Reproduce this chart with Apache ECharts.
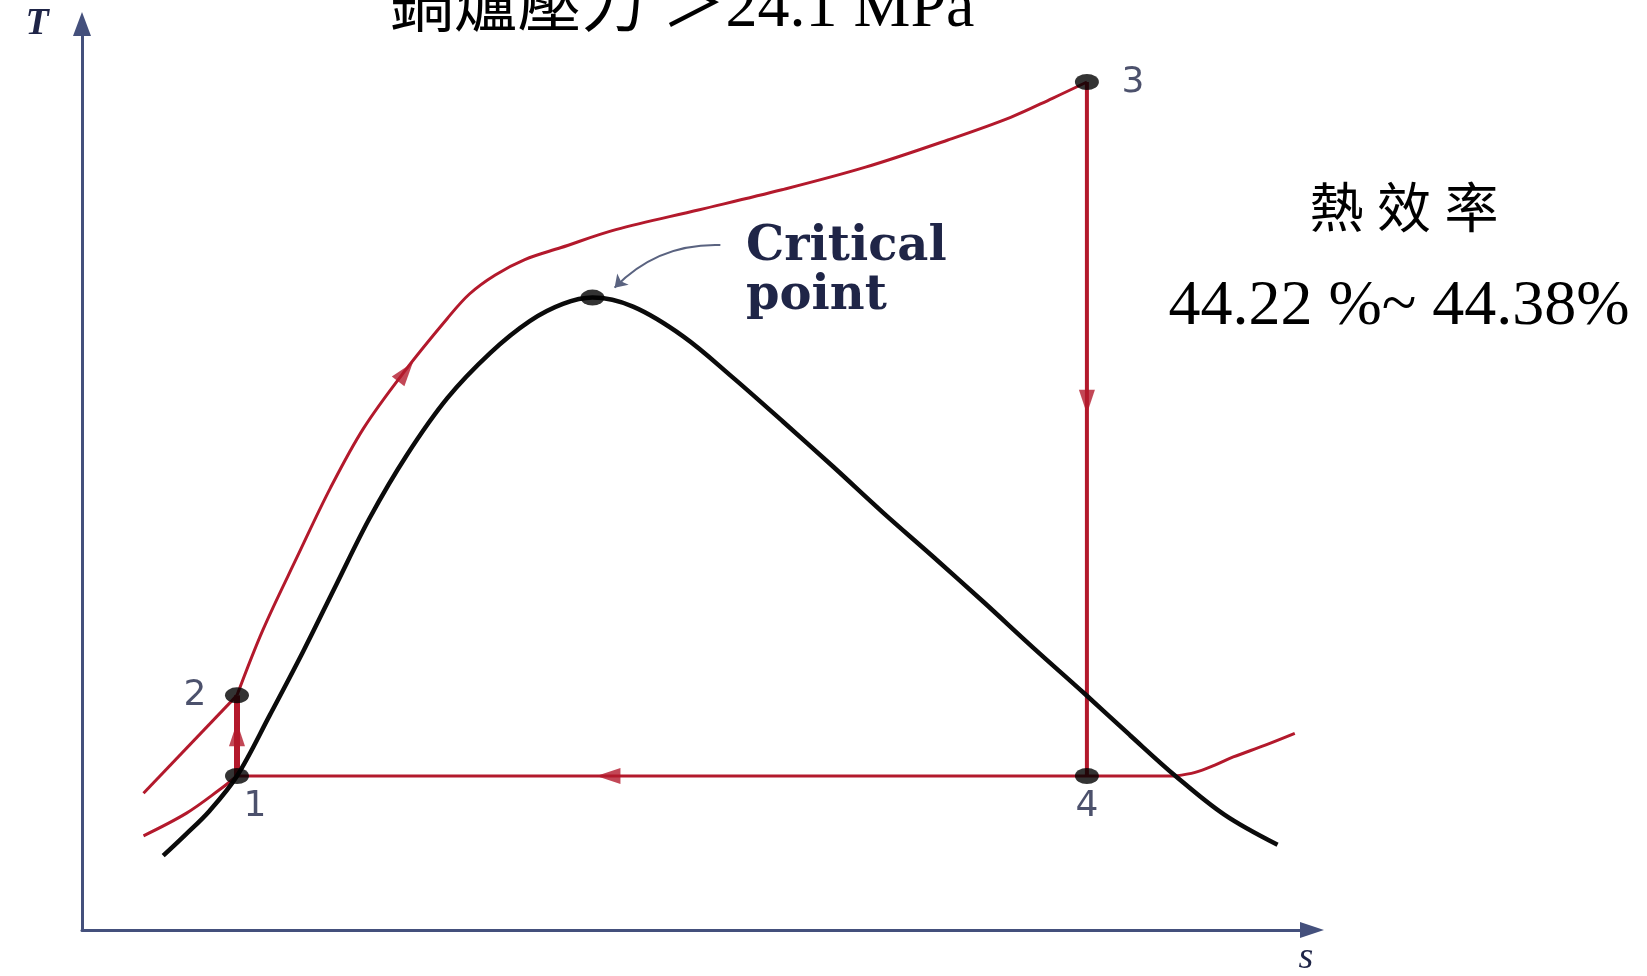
<!DOCTYPE html>
<html>
<head>
<meta charset="utf-8">
<script src="https://cdn.jsdelivr.net/npm/echarts@6/dist/echarts.min.js"></script>
<style>
  html, body { margin: 0; padding: 0; background: #ffffff; }
  #chart { width: 1647px; height: 976px; }
</style>
</head>
<body>
<div id="chart"></div>
<script>
// T–s diagram of a supercritical Rankine cycle (entropy s, temperature T, arbitrary units 0–100)

// Saturation dome, left (liquid) branch through the critical point to the right (vapour) branch
const domeCurve = [
  [6.6, 8.2], [8.4, 10.5], [10.4, 13.2], [12.6, 17.0], [15.3, 23.8], [18.0, 30.8],
  [20.7, 38.2], [23.4, 45.5], [26.4, 52.4], [29.7, 58.7], [33.2, 63.7], [36.4, 67.2],
  [39.1, 69.1], [41.5, 69.8], [44.8, 68.8], [48.9, 65.5], [52.9, 61.0], [57.0, 56.1],
  [61.1, 51.1], [65.1, 46.1], [69.2, 41.2], [73.3, 36.2], [77.3, 31.2], [81.5, 26.1],
  [85.2, 21.5], [88.9, 17.0], [92.9, 12.7], [97.2, 9.4]
];

// Boiler (supercritical) isobar: lower stub up to state 2, then 2 → 3
const boilerStub = [[5.0, 15.1], [12.6, 25.9]];
const boilerIsobar = [
  [12.6, 25.9], [14.7, 33.1], [17.5, 41.2], [20.2, 48.8], [22.9, 55.4], [26.3, 61.8],
  [29.7, 67.5], [31.5, 70.2], [33.6, 72.3], [36.0, 74.0], [38.9, 75.3], [43.4, 77.3],
  [50.2, 79.5], [56.9, 81.7], [63.7, 84.2], [70.4, 87.2], [75.5, 89.7], [78.9, 91.8],
  [81.7, 93.6]
];

// Condenser isobar: compressed-liquid part, 4 → 1 heat rejection, superheated tail
const condenserLeft = [[5.0, 10.4], [8.5, 12.9], [11.2, 15.5], [12.6, 17.0]];
const condenserLine = [[12.6, 17.0], [88.9, 17.0]];
const condenserTail = [[88.9, 17.0], [90.5, 17.4], [92.1, 18.2], [93.6, 19.1], [96.2, 20.4], [98.6, 21.7]];

// Pump 1 → 2 and turbine 3 → 4
const pumpLine = [[12.6, 17.0], [12.6, 25.9]];
const turbineLine = [[81.7, 93.6], [81.7, 17.0]];

// Numbered cycle states
const stateNames = ['1', '2', '3', '4'];
const stateValues = [[12.6, 17.0], [12.6, 25.9], [81.7, 93.6], [81.7, 17.0]];

const criticalPoint = [41.5, 69.8];
const criticalLeader = [[51.9, 75.6], [43.3, 70.9]];

// Flow-direction arrowheads: where each sits and a point further along its path
const arrowAt = [[26.3, 61.6], [12.6, 21.6], [81.7, 58.3], [42.8, 17.0]];
const arrowToward = [[29.7, 67.5], [12.6, 25.9], [81.7, 17.0], [12.6, 17.0]];

const RED = '#b3192c';
const INK = '#1f2547';
const AXIS = '#44507c';
const SERIF_CJK = "'Liberation Serif', 'Noto Sans CJK TC', serif";

const stateLabelOffsets = [[18, 31], [-42, 0], [46, 1], [0, 31]];

const chart = echarts.init(document.getElementById('chart'), null, { renderer: 'canvas' });

function redLine(data, width, smooth) {
  return {
    type: 'line', data: data, smooth: smooth, showSymbol: false, symbol: 'none',
    lineStyle: { color: RED, width: width }, z: 3, silent: true
  };
}

const option = {
  animation: false,
  backgroundColor: '#ffffff',
  grid: { left: 82, right: 335, top: 24, bottom: 46, containLabel: false },
  xAxis: {
    type: 'value', min: 0, max: 100,
    axisLine: { show: true, onZero: false, symbol: ['none', 'triangle'], symbolSize: [16, 24],
      lineStyle: { color: AXIS, width: 3 } },
    axisTick: { show: false }, axisLabel: { show: false }, splitLine: { show: false }
  },
  yAxis: {
    type: 'value', min: 0, max: 100,
    axisLine: { show: true, onZero: false, symbol: ['none', 'triangle'], symbolSize: [18, 24],
      lineStyle: { color: AXIS, width: 3 } },
    axisTick: { show: false }, axisLabel: { show: false }, splitLine: { show: false }
  },
  series: [
    {
      type: 'line', data: domeCurve, smooth: 0.35, showSymbol: false, symbol: 'none',
      lineStyle: { color: '#0b0b0b', width: 4.5 }, z: 4, silent: true
    },
    redLine(boilerStub, 3, false),
    redLine(boilerIsobar, 3, 0.35),
    redLine(condenserLeft, 3, 0.35),
    redLine(condenserLine, 3, false),
    redLine(condenserTail, 3, 0.35),
    redLine(pumpLine, 6, false),
    redLine(turbineLine, 4, false),
    {
      id: 'arrows', type: 'scatter', symbol: 'triangle', symbolSize: [16, 24],
      itemStyle: { color: RED }, z: 6, silent: true,
      data: arrowAt.map(function (p) { return { value: p }; })
    },
    {
      type: 'lines', coordinateSystem: 'cartesian2d', silent: true, z: 5,
      symbol: ['none', 'arrow'], symbolSize: 12,
      lineStyle: { color: '#5a6380', width: 2, curveness: -0.22, opacity: 1 },
      data: [{ coords: criticalLeader }]
    },
    {
      type: 'scatter', symbol: 'circle', symbolSize: [24, 16], z: 7, silent: true,
      itemStyle: { color: '#000000' },
      data: [{ value: criticalPoint }]
    },
    {
      type: 'scatter', symbol: 'circle', symbolSize: [24, 16], z: 7, silent: true,
      itemStyle: { color: '#000000' },
      data: stateValues.map(function (v, i) {
        return {
          value: v, name: stateNames[i],
          label: {
            show: true, position: 'inside', formatter: stateNames[i],
            offset: stateLabelOffsets[i], color: INK,
            fontFamily: "'DejaVu Sans', sans-serif", fontSize: 36, fontWeight: 'normal'
          }
        };
      })
    }
  ],
  graphic: [
    { type: 'text', silent: true, style: { text: '鍋爐壓力 ＞24.1 MPa', x: 682, y: 9,
      align: 'center', verticalAlign: 'middle', fontSize: 64, fontFamily: SERIF_CJK, fill: '#000' } },
    { type: 'text', silent: true, style: { text: '熱 效 率', x: 1404, y: 214,
      align: 'center', verticalAlign: 'middle', fontSize: 54, fontFamily: SERIF_CJK, fill: '#000' } },
    { type: 'text', silent: true, style: { text: '44.22 %~ 44.38%', x: 1399, y: 307,
      align: 'center', verticalAlign: 'middle', fontSize: 64, fontFamily: SERIF_CJK, fill: '#000' } },
    { type: 'text', silent: true, style: { text: 'Critical', x: 746, y: 248,
      align: 'left', verticalAlign: 'middle', fontSize: 48, fontWeight: 'bold',
      fontFamily: "'DejaVu Serif', serif", fill: INK } },
    { type: 'text', silent: true, style: { text: 'point', x: 746, y: 297,
      align: 'left', verticalAlign: 'middle', fontSize: 48, fontWeight: 'bold',
      fontFamily: "'DejaVu Serif', serif", fill: INK } },
    { type: 'text', silent: true, style: { text: 'T', x: 37, y: 24,
      align: 'center', verticalAlign: 'middle', fontSize: 38, fontWeight: 'bold', fontStyle: 'italic',
      fontFamily: "'Liberation Serif', serif", fill: INK } },
    { type: 'text', silent: true, style: { text: 's', x: 1306, y: 958,
      align: 'center', verticalAlign: 'middle', fontSize: 38, fontStyle: 'italic',
      fontFamily: "'Liberation Serif', serif", fill: INK } }
  ]
};

chart.setOption(option);

// Point each arrowhead along its path, using the on-screen direction
const arrowData = arrowAt.map(function (p, i) {
  const a = chart.convertToPixel({ gridIndex: 0 }, p);
  const b = chart.convertToPixel({ gridIndex: 0 }, arrowToward[i]);
  const deg = Math.atan2(-(b[1] - a[1]), b[0] - a[0]) * 180 / Math.PI;
  return { value: p, symbolRotate: deg - 90 };
});
chart.setOption({ series: [{ id: 'arrows', data: arrowData }] });
</script>
</body>
</html>
